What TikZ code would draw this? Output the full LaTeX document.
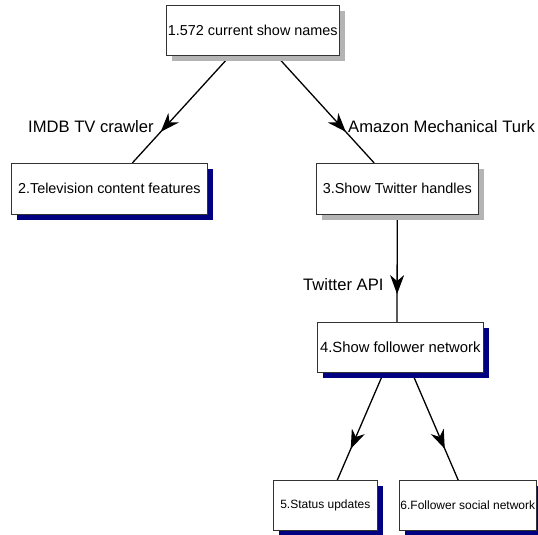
\documentclass[tikz,border=0pt]{standalone}
\usepackage{fontspec}
\setmainfont{Liberation Sans}
\usetikzlibrary{arrows.meta,decorations.markings,shadows,backgrounds,calc}
\definecolor{navyshade}{RGB}{0,0,128}
\definecolor{grayshade}{RGB}{180,180,180}
\tikzset{
  stagebox/.style={draw=black!80, line width=0.6pt, fill=white, inner sep=0pt,
    anchor=north west, align=center},
  navyshadow/.style={drop shadow={shadow xshift=6pt, shadow yshift=-6pt,
    fill=navyshade, opacity=1}},
  grayshadow/.style={drop shadow={shadow xshift=6pt, shadow yshift=-6pt,
    fill=grayshade, opacity=1}},
  bigtext/.style={font=\fontsize{14.4}{17}\selectfont},
  smalltext/.style={font=\fontsize{12}{14}\selectfont},
  steplabel/.style={inner sep=0pt, anchor=west, font=\fontsize{16.6}{19}\selectfont},
  flow/.style={line width=1.3pt, black, postaction={decorate},
    decoration={markings, mark=at position #1 with
      {\arrow{Stealth[length=19pt,width=14pt,inset=6pt]}}}}
}
\begin{document}
\begin{tikzpicture}[x=1pt,y=-1pt]
  \useasboundingbox (0,0) rectangle (538,535);

  % processing stages
  \node[stagebox, grayshadow, bigtext, minimum width=173pt, minimum height=50pt]
    (b1) at (166,5) {1.572 current show names};
  \node[stagebox, navyshadow, bigtext, minimum width=196pt, minimum height=51pt]
    (b2) at (11,163) {2.Television content features};
  \node[stagebox, grayshadow, bigtext, minimum width=162pt, minimum height=51pt]
    (b3) at (316,163) {3.Show Twitter handles};
  \node[stagebox, navyshadow, font=\fontsize{14.8}{17}\selectfont,
    minimum width=166pt, minimum height=50pt]
    (b4) at (317,322) {4.Show follower network};
  \node[stagebox, navyshadow, smalltext, minimum width=104pt, minimum height=50pt]
    (b5) at (273,480) {5.Status updates};
  \node[stagebox, navyshadow, smalltext, minimum width=137pt, minimum height=50pt]
    (b6) at (399,480) {6.Follower social network};

  % data sources on the edges
  \node[steplabel] (l1) at (28,127) {IMDB TV crawler};
  \node[steplabel] (l2) at (348,127) {Amazon Mechanical Turk};
  \node[steplabel] (l3) at (303,285) {Twitter API};

  % connectors, kept behind the boxes and their shadows
  \begin{scope}[on background layer]
    \draw[flow=0.71] ($(b1.south west)!0.37!(b1.south east)$)
      -- ($(b2.north west)!0.617!(b2.north east)$);
    \draw[flow=0.71] ($(b1.south west)!0.636!(b1.south east)$)
      -- ($(b3.north west)!0.358!(b3.north east)$);
    \draw[flow=0.74] (b3.south) -- ($(b4.north west)!0.48!(b4.north east)$);
    \draw[flow=0.71] ($(b4.south west)!0.40!(b4.south east)$)
      -- ($(b5.north west)!0.615!(b5.north east)$);
    \draw[flow=0.71] ($(b4.south west)!0.57!(b4.south east)$)
      -- ($(b6.north west)!0.43!(b6.north east)$);
  \end{scope}
\end{tikzpicture}
\end{document}
